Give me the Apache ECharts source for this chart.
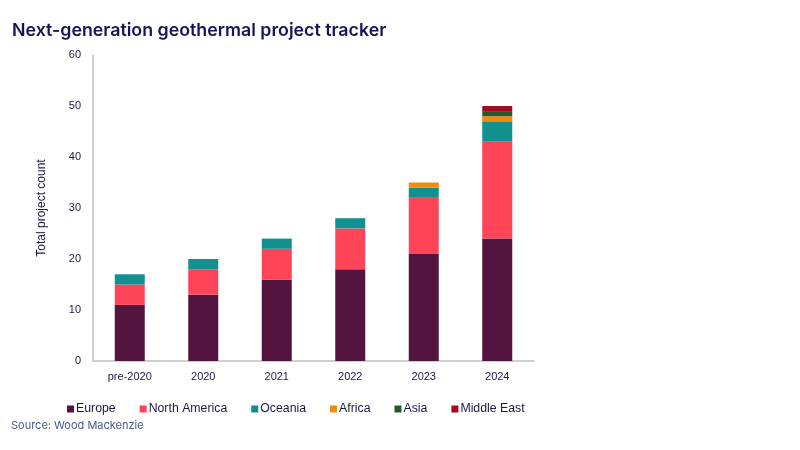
<!DOCTYPE html>
<html><head><meta charset="utf-8">
<script src="https://cdn.jsdelivr.net/npm/echarts@6/dist/echarts.min.js"></script>
<style>html,body{margin:0;padding:0;background:#fff}#c{width:800px;height:450px}</style>
</head><body><div id="c"></div>
<script>
var categories = ['pre-2020', '2020', '2021', '2022', '2023', '2024'];
var europe = [11, 13, 16, 18, 21, 24];
var northAmerica = [4, 5, 6, 8, 11, 19];
var oceania = [2, 2, 2, 2, 2, 4];
var africa = [0, 0, 0, 0, 1, 1];
var asia = [0, 0, 0, 0, 0, 1];
var middleEast = [0, 0, 0, 0, 0, 1];
var seriesNames = ['Europe', 'North America', 'Oceania', 'Africa', 'Asia', 'Middle East'];
var colors = ['#541440', '#ff4458', '#11908f', '#f08a10', '#245a2b', '#a30a22'];
var seriesData = [europe, northAmerica, oceania, africa, asia, middleEast];

var chart = echarts.init(document.getElementById('c'));
chart.setOption({
  animation: false,
  title: [{
    text: 'Next-generation geothermal project tracker',
    left: 12, top: 22, padding: 0,
    textStyle: { color: '#14145a', fontSize: 17.8, fontWeight: 600, fontFamily: 'Inter' }
  }, {
    text: 'Source: Wood Mackenzie',
    left: 11, top: 420, padding: 0,
    textStyle: { color: '#4a5a8a', fontSize: 11, fontWeight: 'normal', fontFamily: 'Inter' }
  }],
  color: colors,
  legend: {
    left: 62, top: 398,
    itemWidth: 7, itemHeight: 7, itemGap: 24,
    icon: 'rect',
    textStyle: { color: '#1a1a40', fontSize: 12.3, fontFamily: 'Liberation Sans', padding: [0, 0, 0, -3] },
    data: seriesNames
  },
  grid: { left: 93, right: 266, top: 55, bottom: 89 },
  xAxis: {
    type: 'category',
    data: categories,
    axisLine: { lineStyle: { color: '#c0c0c0', width: 1.5 } },
    axisTick: { show: false },
    axisLabel: { color: '#1a1a40', fontSize: 11, fontFamily: 'Liberation Sans', margin: 10 }
  },
  yAxis: {
    type: 'value',
    min: 0, max: 60, interval: 10,
    name: 'Total project count',
    nameLocation: 'middle',
    nameGap: 45,
    nameTextStyle: { color: '#1a1a40', fontSize: 12, fontFamily: 'Liberation Sans' },
    axisLine: { show: true, lineStyle: { color: '#c0c0c0', width: 1.5 } },
    axisTick: { show: false },
    splitLine: { show: false },
    axisLabel: { color: '#1a1a40', fontSize: 11, fontFamily: 'Liberation Sans', margin: 12 }
  },
  series: seriesNames.map(function (n, i) {
    return {
      name: n, type: 'bar', stack: 'total', barWidth: 30,
      data: seriesData[i].map(function (v) { return v === 0 ? null : v; }),
      itemStyle: { color: colors[i] }
    };
  })
});
</script></body></html>
